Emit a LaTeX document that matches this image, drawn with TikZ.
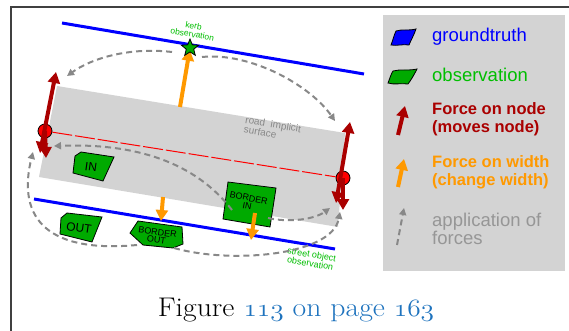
\documentclass[tikz,border=0pt]{standalone}
\usepackage{fontspec}
\newfontfamily\arial{Liberation Sans}
\usetikzlibrary{arrows.meta,shapes.geometric,calc}
\definecolor{dred}{RGB}{170,0,0}
\definecolor{orng}{RGB}{255,153,0}
\definecolor{gblue}{RGB}{0,0,255}
\definecolor{ggreen}{RGB}{0,170,0}
\definecolor{tgreen}{RGB}{0,190,0}
\definecolor{rgray}{RGB}{211,211,211}
\definecolor{dgray}{RGB}{136,136,136}
\definecolor{lgtext}{RGB}{150,150,150}
\definecolor{framec}{RGB}{64,64,64}
\definecolor{capblue}{RGB}{30,115,190}
\newcommand\osnum[1]{{\usefont{OML}{cmm}{m}{it}#1}}
\begin{document}
\begin{tikzpicture}[x=1pt,y=-1pt,
  nodearrow/.style={draw=dred, line width=4pt, -{Triangle[length=11pt,width=12pt]}},
  dnodearrow/.style={draw=dred, line width=4pt, {Triangle[length=11pt,width=12pt]}-{Triangle[length=11pt,width=12pt]}},
  widtharrow/.style={draw=orng, line width=4pt, -{Triangle[length=11pt,width=12pt]}},
  forcearrow/.style={draw=dgray, line width=2pt, dash pattern=on 6pt off 4pt, -{Triangle[length=7pt,width=7pt]}},
  obsshape/.style={fill=ggreen, draw=black, line width=0.8pt},
  rednode/.style={circle, fill=red, draw=black, line width=0.8pt, minimum size=14pt, inner sep=0pt},
  blueline/.style={draw=gblue, line width=3pt},
  shapelabel/.style={font=\arial\fontsize{12}{12}\selectfont, inner sep=0pt},
  smalllabel/.style={font=\arial\fontsize{9}{8}\selectfont, align=center, inner sep=0pt},
  legendtext/.style={anchor=west, align=left, inner sep=0pt},
]
\useasboundingbox (0,0) rectangle (569,331);
\fill[white] (0,0) rectangle (569,331);
% frame
\draw[framec, line width=1.5pt] (11,331) -- (11,7) -- (569,7);
% legend box
\fill[rgray] (383,15) rectangle (565,271);
% road surface
\fill[rgray] (57,86) -- (345,133) -- (338,227) -- (39,177) -- cycle;
\node[font=\arial\fontsize{10}{9.5}\selectfont, text=dgray, align=left, rotate=-9.5, inner sep=0pt, anchor=north west] (road) at (246,116) {road\ \ implicit\\surface};
% blue lines
\draw[blueline] (62,23) -- (364,74);
\draw[blueline] (34,199) -- (335,249);
% observation labels
\node[smalllabel, text=tgreen, rotate=-9.5, font=\arial\fontsize{8.5}{8.5}\selectfont] (kerblabel) at (193,30) {kerb\\observation};
\node[smalllabel, text=tgreen, rotate=-9.5, font=\arial\fontsize{9}{9}\selectfont] (streetlabel) at (311,259) {street object\\observation};
% green observation shapes
\draw[obsshape] (75,156) -- (81,152) -- (114,157) -- (103,181) -- (73,173) -- cycle;
\node[shapelabel, rotate=-8] (in) at (91,167) {IN};
\draw[obsshape] (61,218) -- (67,213) -- (102,217) -- (92,242) -- (60,234) -- cycle;
\node[shapelabel, rotate=-8] (out) at (79,228) {OUT};
\draw[obsshape] (130,233) -- (138,221) -- (182,227) -- (183,244) -- (173,248) -- (143,245) -- cycle;
\node[smalllabel, rotate=-8, font=\arial\fontsize{9}{8}\selectfont] (bout) at (157,236) {BORDER\\OUT};
\draw[obsshape] (228,182) -- (276,188) -- (270,227) -- (223,219) -- cycle;
\node[smalllabel, rotate=-11, font=\arial\fontsize{9}{8}\selectfont] (bin) at (248,202) {BORDER\\IN};
% red nodes and connecting dashed line
\node[rednode] (n1) at (45,131) {};
\node[rednode] (n2) at (343,178) {};
\draw[red, line width=1pt, dash pattern=on 20pt off 3pt] (n1) -- (n2);
% node forces
\coordinate (lup) at (56,72);
\coordinate (ldn) at (40,153);
\coordinate (ldn2) at (46,158);
\coordinate (rup) at (350,122);
\coordinate (rdn) at (336,203);
\coordinate (rdn2) at (343,210);
\draw[dnodearrow] (lup) -- (ldn);
\draw[nodearrow] (n1.center) -- (ldn2);
\draw[dnodearrow] (rup) -- (rdn);
\draw[nodearrow] (n2.center) -- (rdn2);
% width forces
\coordinate (kerbpt) at (190,48);
\coordinate (o1s) at (180,107);
\draw[widtharrow] (o1s) -- ($(o1s)!0.97!(kerbpt)$);
\node[star, star points=5, star point ratio=2.3, minimum size=18pt, inner sep=0pt, fill=ggreen, draw=black, line width=0.8pt] (kerb) at (kerbpt) {};
\coordinate (o2s) at (163,197);
\coordinate (o2e) at (161,221);
\draw[widtharrow] (o2s) -- (o2e);
\coordinate (o3s) at (255,213);
\coordinate (o3e) at (251,240);
\draw[widtharrow] (o3s) -- (o3e);
% application of forces
\coordinate (a1s) at (172,52);
\coordinate (a1e) at (67,76);
\draw[forcearrow] (a1s) .. controls (130,47) and (92,58) .. (a1e);
\coordinate (a2s) at (202,57);
\coordinate (a2e) at (335,121);
\draw[forcearrow] (a2s) .. controls (250,52) and (310,85) .. (a2e);
\coordinate (a3s) at (232,210);
\coordinate (a3e) at (54,146);
\draw[forcearrow] (a3s) .. controls (195,162) and (135,143) .. (a3e);
\coordinate (a4s) at (268,218);
\coordinate (a4e) at (330,208);
\draw[forcearrow] (a4s) .. controls (290,223) and (315,219) .. (a4e);
\coordinate (a5s) at (137,245);
\coordinate (a5e) at (33,152);
\draw[forcearrow] (a5s) .. controls (40,254) and (18,212) .. (a5e);
\coordinate (a6s) at (174,248);
\coordinate (a6e) at (340,212);
\draw[forcearrow] (a6s) .. controls (230,264) and (332,256) .. (a6e);
% legend
\draw[fill=gblue, draw=black, line width=0.8pt] (391,45) .. controls (393,40) and (394,35) .. (396,31) .. controls (402,29) and (408,31) .. (416,29) .. controls (414,35) and (411,40) .. (409,45) .. controls (403,44) and (397,46) .. cycle;
\node[legendtext, text=gblue, font=\arial\fontsize{18.5}{18}\selectfont] (lg1) at (432,37) {groundtruth};
\draw[fill=ggreen, draw=black, line width=0.8pt] (388,83) .. controls (390,78) and (391,74) .. (393,71) .. controls (400,69) and (408,71) .. (417,69) .. controls (414,75) and (411,80) .. (408,84) .. controls (401,83) and (394,85) .. cycle;
\node[legendtext, text=tgreen, font=\arial\fontsize{18.5}{18}\selectfont] (lg2) at (432,75) {observation};
\coordinate (lr1) at (398,135);
\coordinate (lr2) at (405,106);
\draw[nodearrow] (lr1) -- (lr2);
\node[legendtext, text=dred, font=\arial\bfseries\fontsize{16.5}{18}\selectfont] (lg3) at (432,119) {Force on node\\(moves node)};
\coordinate (lo1) at (398,187);
\coordinate (lo2) at (404,159);
\draw[widtharrow] (lo1) -- (lo2);
\node[legendtext, text=orng, font=\arial\bfseries\fontsize{16.5}{18}\selectfont] (lg4) at (432,172) {Force on width\\(change width)};
\coordinate (la1) at (397,245);
\coordinate (la2) at (404,208);
\draw[forcearrow] (la1) -- (la2);
\node[legendtext, text=lgtext, font=\arial\fontsize{18.5}{15}\selectfont] (lg5) at (432,229) {application of\\forces};
% caption
\node[font=\fontsize{27}{30}\selectfont, inner sep=0pt, xscale=1.1, anchor=base] (caption) at (296,316) {Figure \textcolor{capblue}{\osnum{113} on page \osnum{163}}};
\end{tikzpicture}
\end{document}
